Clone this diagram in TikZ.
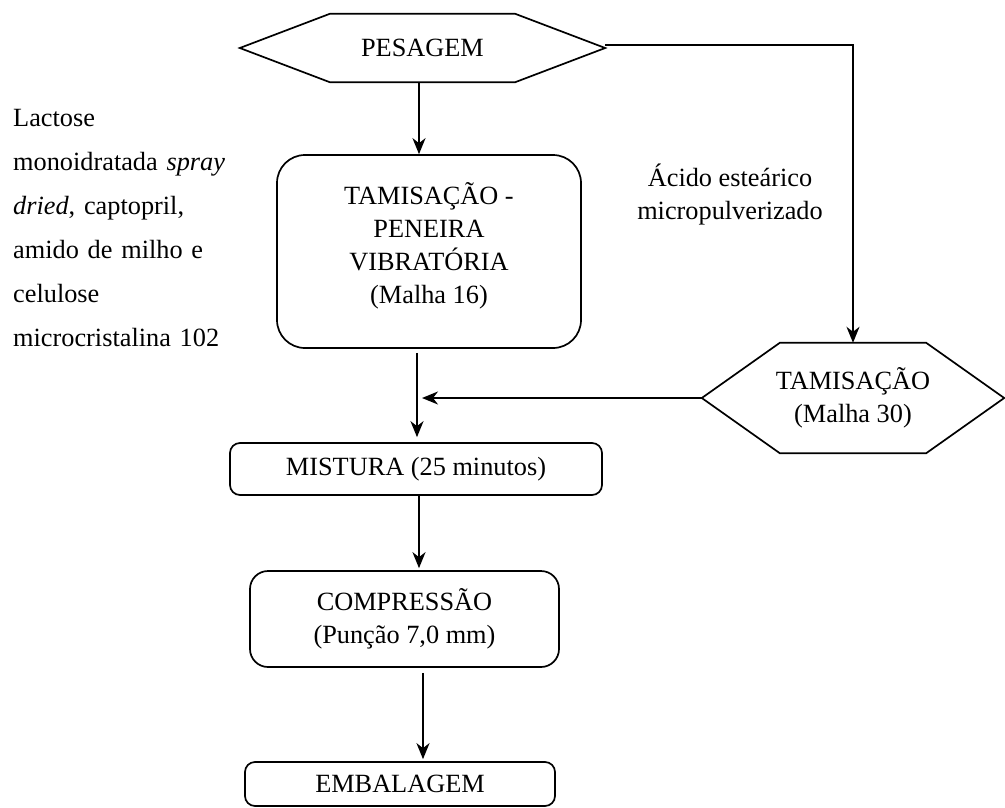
\documentclass[tikz,border=0pt]{standalone}
\usepackage{fontspec}
\setmainfont{Liberation Serif}
\usetikzlibrary{arrows.meta,calc}
\tikzset{
  txt/.style={font=\fontsize{26.3}{33}\selectfont, inner sep=0pt, align=center},
  hexbox/.style={txt, draw=none},
  rbox/.style={txt, draw, line width=1.7pt},
  tip/.style={-{Stealth[length=16pt,width=13pt,inset=5pt]}},
  arr/.style={line width=2pt, tip},
  shp/.style={line width=1.7pt, line join=miter}
}
\begin{document}
\begin{tikzpicture}[x=1pt,y=-1pt]
\useasboundingbox (0,0) rectangle (1005,807);
% PESAGEM hexagon
\node[hexbox, minimum width=365pt, minimum height=68pt] (pes) at (422.5,48) {PESAGEM};
\draw[shp] (pes.west) -- ([xshift=90pt]pes.north west) -- ([xshift=-90pt]pes.north east)
  -- (pes.east) -- ([xshift=-90pt]pes.south east) -- ([xshift=90pt]pes.south west) -- cycle;
% TAMISACAO - PENEIRA
\node[rbox, rounded corners=28pt, minimum width=304pt, minimum height=193pt,
  label={[txt, yshift=6pt]center:{TAMISAÇÃO -\\PENEIRA\\VIBRATÓRIA\\(Malha 16)}}] (tam1) at (429,251.5) {};
% TAMISACAO hexagon right
\node[hexbox, minimum width=302pt, minimum height=110pt] (tam2) at (853,398)
  {TAMISAÇÃO\\(Malha 30)};
\draw[shp] (tam2.west) -- ([xshift=78pt]tam2.north west) -- ([xshift=-78pt]tam2.north east)
  -- (tam2.east) -- ([xshift=-78pt]tam2.south east) -- ([xshift=78pt]tam2.south west) -- cycle;
% MISTURA
\node[rbox, rounded corners=10pt, minimum width=372pt, minimum height=52pt] (mis) at (416,469)
  {MISTURA (25 minutos)};
% COMPRESSAO
\node[rbox, rounded corners=18pt, minimum width=309pt, minimum height=96pt] (com) at (404.5,619)
  {COMPRESSÃO\\(Punção 7,0 mm)};
% EMBALAGEM
\node[rbox, rounded corners=10pt, minimum width=310pt, minimum height=44pt] (emb) at (400,784)
  {EMBALAGEM};
% side texts
\node[txt] (acido) at (730,195) {Ácido esteárico\\micropulverizado};
\node[txt, anchor=north west, text width=217pt, align=left,
  font=\fontsize{26.3}{44}\selectfont] (lact) at (13,109)
  {Lactose\\
   \makebox[\linewidth][s]{monoidratada \textit{spray}}\\
   \textit{dried}, captopril,\\
   \makebox[\linewidth][s]{amido de milho e}\\
   celulose\\
   microcristalina 102};
% connectors
\draw[arr] ([xshift=-3.5pt]pes.south) -- ([xshift=-3.5pt]pes.south |- tam1.north);
\draw[line width=1.7pt, tip] ([yshift=3pt]pes.east) -| (tam2.north);
\draw[arr, shorten >=5pt] ([xshift=-12pt,yshift=-4pt]tam1.south) -- ([xshift=-12pt]tam1.south |- mis.north);
\draw[arr, shorten >=6pt] (tam2.west) -- (tam2.west -| mis.north);
\draw[arr, shorten >=2pt] ([xshift=3pt]mis.south) -- ([xshift=3pt]mis.south |- com.north);
\draw[arr, shorten >=2pt] ([xshift=18.5pt,yshift=-5pt]com.south) -- ([xshift=18.5pt]com.south |- emb.north);
\end{tikzpicture}
\end{document}
